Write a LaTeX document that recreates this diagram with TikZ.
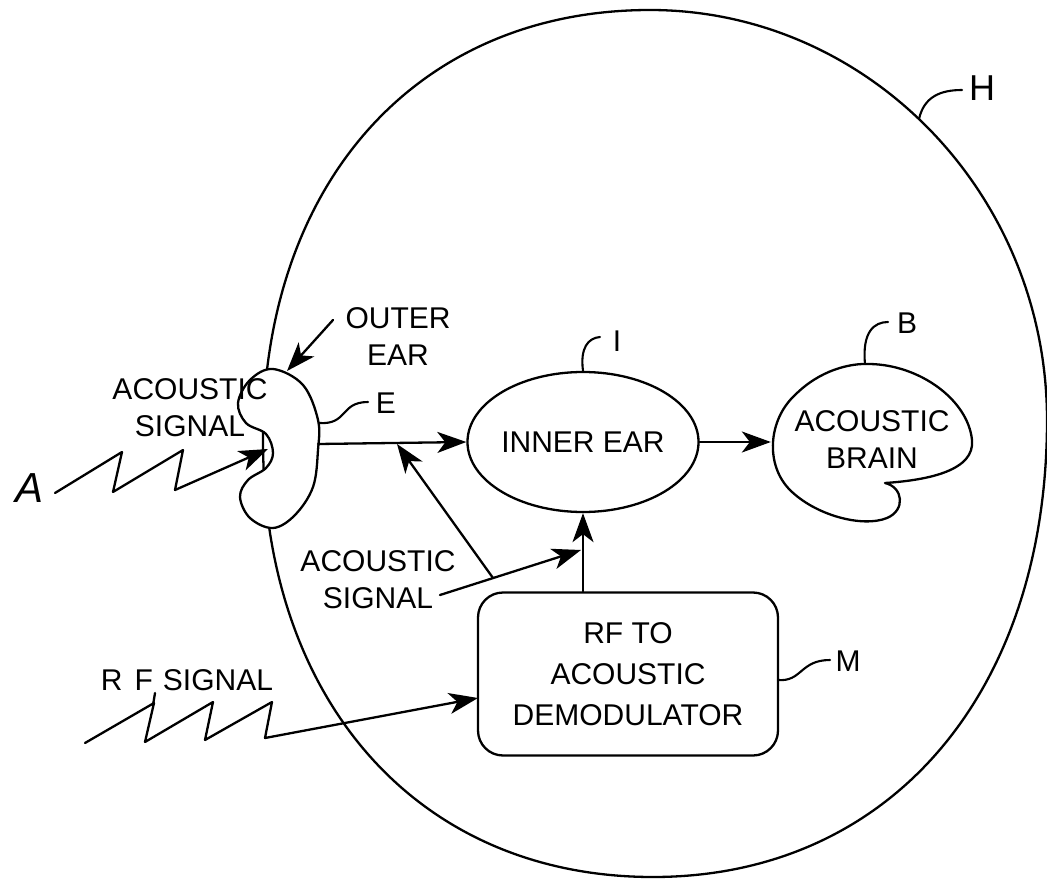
\documentclass[tikz,border=0pt]{standalone}
\usepackage{fontspec}
\setmainfont{Liberation Sans}
\usetikzlibrary{arrows.meta,shapes.geometric}
\begin{document}
\begin{tikzpicture}[x=1pt,y=-1pt, line width=2.3pt, line join=round, line cap=round,
  arr/.style={-{Stealth[length=29pt,width=21pt,inset=8pt]}},
  lbl/.style={font=\fontsize{30}{37}\selectfont, align=center, inner sep=0pt},
  letter/.style={font=\fontsize{30}{30}\selectfont, inner sep=0pt},
  leader/.style={line width=2.1pt}]
\useasboundingbox (0,0) rectangle (1047,880);

% head outline H
\coordinate (hT) at (650,10);
\coordinate (hR) at (1047,420);
\coordinate (hB) at (653,877);
\coordinate (hL) at (263,440);
\draw (hT) .. controls (868,10) and (1047,194) .. (hR)
  .. controls (1047,694) and (889,877) .. (hB)
  .. controls (419,877) and (263,702) .. (hL)
  .. controls (263,182) and (418,10) .. (hT) -- cycle;

% outer ear E
\draw[fill=white] plot[smooth cycle, tension=0.6] coordinates {
 (273,369) (303,385) (318,420) (318,450) (313,487) (295,515) (273,528) (250,518)
 (240,497) (248,480) (266,468) (273,453) (266,434) (246,423) (238,403) (250,380)};
\coordinate (earTop) at (287,371);
\coordinate (earNotch) at (268,449);
\coordinate (earR) at (318,444);
\coordinate (earE) at (319,423);

% inner ear I
\node[draw, ellipse, minimum width=220pt, minimum height=140pt, inner sep=0pt, lbl] (inner) at (583,442) {INNER EAR};

% acoustic brain B
\draw (885,483) .. controls (903,487) and (906,510) .. (887,518)
  .. controls (862,528) and (815,515) .. (790,490)
  .. controls (765,465) and (768,420) .. (795,395)
  .. controls (820,370) and (850,363) .. (870,364)
  .. controls (920,365) and (968,400) .. (972,440)
  .. controls (975,470) and (930,480) .. (885,483);
\node[lbl, minimum width=200pt, minimum height=150pt] (brain) at (872,440) {ACOUSTIC\\BRAIN};

% demodulator M
\node[draw, rounded corners=25pt, minimum width=300pt, minimum height=163pt, align=center,
  inner sep=0pt, font=\fontsize{30}{41}\selectfont] (demod) at (628,674) {RF TO\\ACOUSTIC\\DEMODULATOR};

% text labels
\node[lbl] (outerlbl) at (398,337) {OUTER\\EAR};
\node[lbl] (as1) at (190,408) {ACOUSTIC\\SIGNAL};
\node[lbl] (as2) at (378,580) {ACOUSTIC\\SIGNAL};
\node[lbl] (rflbl) at (187,680) {R\hspace{12pt}F\hspace{10pt}SIGNAL};
\node[font=\fontsize{42}{42}\selectfont\itshape, inner sep=0pt] (Alab) at (30,488) {A};

% reference letters
\node[letter] (Ilab) at (617,341) {I};
\node[letter] (Blab) at (907,323) {B};
\node[letter] (Elab) at (386,403) {E};
\node[letter] (Mlab) at (848,661) {M};
\node[letter, font=\fontsize{36}{36}\selectfont] (Hlab) at (982,88) {H};

\coordinate (Hpt) at (919,119);
\draw[leader] (Hpt) .. controls (924,97) and (940,90) .. (962,90);
\draw[leader] (inner.north) .. controls (580,348) and (588,338) .. (600,337);
\draw[leader] (earE) .. controls (348,425) and (340,402) .. (368,402);
\coordinate (brainTop) at (865,364);
\draw[leader] (brainTop) .. controls (862,332) and (874,322) .. (888,322);
\coordinate (demodR) at (778,680);
\draw[leader] (demodR) .. controls (802,682) and (800,660) .. (830,660);

% connectors
\coordinate (oe0) at (333,320);
\draw[arr] (oe0) -- (earTop);
\coordinate (zA0) at (55,493);
\draw[arr] (zA0) -- (122,452) -- (113,492) -- (183,450) -- (175,490) -- (earNotch);
\draw[arr] (earR) -- (inner.west);
\draw[arr] (inner.east) -- (inner.east -| brain.west);
\draw[arr] (demod.north -| inner.south) -- (inner.south);

\coordinate (s2) at (440,595);
\coordinate (j) at (581,550);
\coordinate (bp) at (493,578);
\coordinate (hl) at (397,444);
\draw[arr] (s2) -- (j);
\draw[arr] (bp) -- (hl);

\coordinate (rf0) at (85,743);
\coordinate (rfin) at (478,698);
\draw (153,705) -- (155,693);
\draw[arr] (rf0) -- (154,703) -- (145,742) -- (213,702) -- (205,740) -- (272,702) -- (265,738) -- (rfin);
\end{tikzpicture}
\end{document}
